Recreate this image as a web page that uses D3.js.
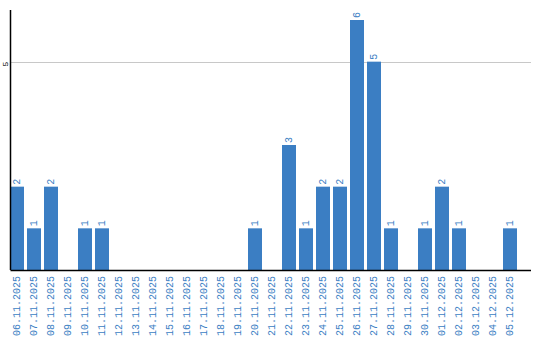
<!DOCTYPE html>
<html><head><meta charset="utf-8">
<script src="https://cdn.jsdelivr.net/npm/d3@7"></script>
<style>body{margin:0;background:#fff}svg{display:block}</style>
</head><body>
<script>
const categories = ["06.11.2025","07.11.2025","08.11.2025","09.11.2025","10.11.2025","11.11.2025","12.11.2025","13.11.2025","14.11.2025","15.11.2025","16.11.2025","17.11.2025","18.11.2025","19.11.2025","20.11.2025","21.11.2025","22.11.2025","23.11.2025","24.11.2025","25.11.2025","26.11.2025","27.11.2025","28.11.2025","29.11.2025","30.11.2025","01.12.2025","02.12.2025","03.12.2025","04.12.2025","05.12.2025"];
const values = [2,1,2,0,1,1,0,0,0,0,0,0,0,0,1,0,3,1,2,2,6,5,1,0,1,2,1,0,0,1];
const yTicks = [5];

const W = 540, H = 340;
const pLeft = 10.5, pRight = 531, pTop = 10, pBottom = 270;
const barColor = "#3b7ec3", textColor = "#3b7ec3";
const svg = d3.select("body").append("svg").attr("width", W).attr("height", H);

const x = d3.scaleBand().domain(categories).range([10, 517]).paddingInner(3/17).paddingOuter(0);
const y = d3.scaleLinear().domain([0, 6.24]).range([pBottom, pTop]);

// grid
svg.append("g").selectAll("line").data(yTicks).join("line")
  .attr("x1", pLeft).attr("x2", pRight)
  .attr("y1", d => Math.round(y(d)) + 0.5).attr("y2", d => Math.round(y(d)) + 0.5)
  .attr("stroke", "#c8c8c8").attr("stroke-width", 1);

// y tick labels
svg.append("g").selectAll("text").data(yTicks).join("text")
  .attr("transform", d => `translate(5,${y(d)+2.5}) rotate(-90)`)
  .attr("text-anchor", "middle").attr("dominant-baseline", "central")
  .attr("font-family", "Liberation Mono, DejaVu Sans Mono, monospace")
  .attr("font-size", 8).attr("fill", "#000")
  .text(d => d);

// bars
svg.append("g").selectAll("rect").data(values.map((v,i)=>({c:categories[i],v}))).join("rect")
  .attr("x", d => x(d.c)).attr("width", x.bandwidth())
  .attr("y", d => y(d.v)).attr("height", d => y(0) - y(d.v))
  .attr("fill", barColor);

// value labels
svg.append("g").selectAll("text").data(values.map((v,i)=>({c:categories[i],v})).filter(d=>d.v>0)).join("text")
  .attr("transform", d => `translate(${x(d.c)+x.bandwidth()/2},${y(d.v)-2}) rotate(-90)`)
  .attr("text-anchor", "start").attr("dominant-baseline", "central")
  .attr("font-family", "Liberation Mono, DejaVu Sans Mono, monospace")
  .attr("font-size", 10).attr("fill", textColor)
  .text(d => d.v);

// x labels
svg.append("g").selectAll("text").data(categories).join("text")
  .attr("transform", d => `translate(${x(d)+x.bandwidth()/2},276) rotate(-90)`)
  .attr("text-anchor", "end").attr("dominant-baseline", "central")
  .attr("font-family", "Liberation Mono, DejaVu Sans Mono, monospace")
  .attr("font-size", 10).attr("fill", textColor)
  .text(d => d);

// axes lines
svg.append("line").attr("x1", pLeft).attr("x2", pLeft).attr("y1", pTop).attr("y2", pBottom)
  .attr("stroke", "#000").attr("stroke-width", 1.5);
svg.append("line").attr("x1", pLeft).attr("x2", pRight).attr("y1", pBottom+0.5).attr("y2", pBottom+0.5)
  .attr("stroke", "#000").attr("stroke-width", 1.5);
</script>
</body></html>
